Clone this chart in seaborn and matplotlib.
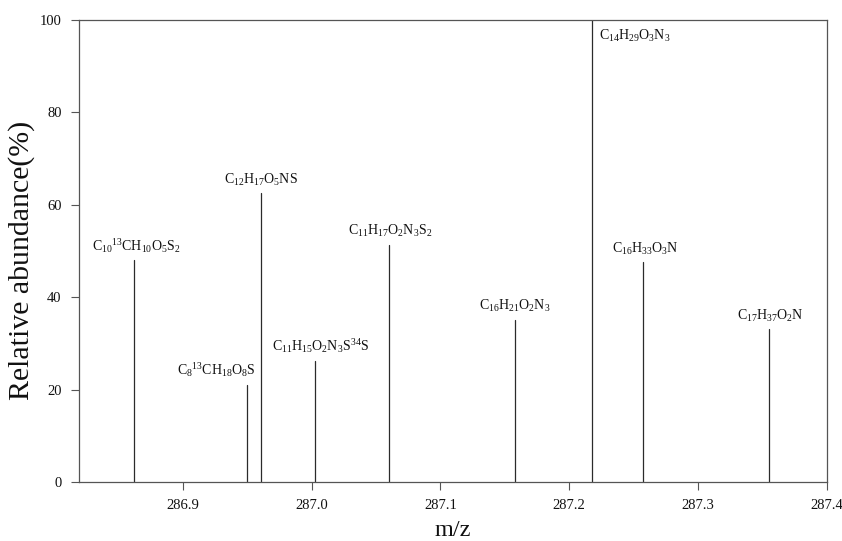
import matplotlib
matplotlib.use("Agg")
import matplotlib.pyplot as plt
import seaborn as sns
import pandas as pd

# Peak list: m/z, relative abundance (%), assigned formula
mz = [286.862, 286.950, 286.961, 287.003, 287.060, 287.158, 287.218, 287.257, 287.355]
abundance = [48.0, 21.0, 62.5, 26.3, 51.3, 35.1, 100.0, 47.6, 33.1]
formulas = [
    r"$\mathregular{C_{10}{}^{13}CH_{10}O_5S_2}$",
    r"$\mathregular{C_8{}^{13}CH_{18}O_8S}$",
    r"$\mathregular{C_{12}H_{17}O_5NS}$",
    r"$\mathregular{C_{11}H_{15}O_2N_3S^{34}S}$",
    r"$\mathregular{C_{11}H_{17}O_2N_3S_2}$",
    r"$\mathregular{C_{16}H_{21}O_2N_3}$",
    r"$\mathregular{C_{14}H_{29}O_3N_3}$",
    r"$\mathregular{C_{16}H_{33}O_3N}$",
    r"$\mathregular{C_{17}H_{37}O_2N}$",
]
x_ticks = [286.9, 287.0, 287.1, 287.2, 287.3, 287.4]
y_ticks = [0, 20, 40, 60, 80, 100]

sns.set_style("ticks")
plt.rcParams["font.family"] = ["Liberation Serif", "DejaVu Serif"]
plt.rcParams["mathtext.fontset"] = "custom"
plt.rcParams["mathtext.rm"] = "Liberation Serif"

# Long-form table: each peak is a stick from the baseline to its abundance
rows = []
for i, (m, a) in enumerate(zip(mz, abundance)):
    rows.append({"peak": i, "mz": m, "abundance": 0.0})
    rows.append({"peak": i, "mz": m, "abundance": a})
sticks = pd.DataFrame(rows)

fig = plt.figure(figsize=(8.42, 5.41), dpi=100)
ax = fig.add_axes([0.0938, 0.109, 0.888, 0.854])

sns.lineplot(data=sticks, x="mz", y="abundance", units="peak", estimator=None,
             color="#2b2b2b", linewidth=0.9, sort=False, ax=ax, legend=False)

# label placement (offsets in points relative to the stick top)
label_style = {
    0: dict(dx=2, dy=4, ha="center", va="bottom"),
    1: dict(dx=-22, dy=4, ha="center", va="bottom"),
    2: dict(dx=0, dy=4, ha="center", va="bottom"),
    3: dict(dx=4, dy=4, ha="center", va="bottom"),
    4: dict(dx=1, dy=4, ha="center", va="bottom"),
    5: dict(dx=0, dy=4, ha="center", va="bottom"),
    6: dict(dx=5, dy=-6, ha="left", va="top"),
    7: dict(dx=2, dy=4, ha="center", va="bottom"),
    8: dict(dx=1, dy=4, ha="center", va="bottom"),
}
for i, (m, a, f) in enumerate(zip(mz, abundance, formulas)):
    s = label_style[i]
    ax.annotate(f, xy=(m, a), xytext=(s["dx"], s["dy"]), textcoords="offset points",
                ha=s["ha"], va=s["va"], fontsize=10, color="#111111")

ax.set_xlim(286.8194, 287.4)
ax.set_ylim(0, 100)
ax.set_xticks(x_ticks)
ax.set_xticklabels([f"{t:.1f}" for t in x_ticks])
ax.set_yticks(y_ticks)
ax.tick_params(axis="both", labelsize=10.5, length=6, width=0.8, color="#555555",
               direction="out", labelcolor="#111111", pad=6.5)
for sp in ax.spines.values():
    sp.set_visible(True)
    sp.set_color("#555555")
    sp.set_linewidth(0.9)

ax.set_xlabel("m/z", fontsize=17.5, labelpad=5.5, color="#111111")
ax.set_ylabel("Relative abundance(%)", fontsize=21.5, color="#111111")
ax.yaxis.set_label_coords(-0.059, 0.48)

fig.savefig("out.png", dpi=100)
